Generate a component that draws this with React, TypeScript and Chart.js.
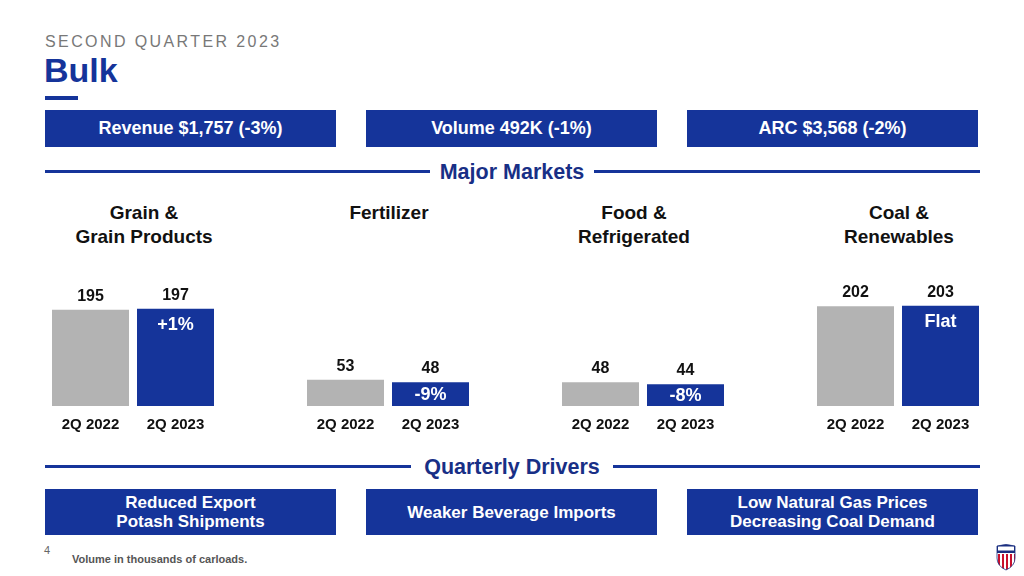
import React, { useEffect, useRef } from "react";
import { Chart, registerables } from "chart.js";

Chart.register(...registerables);

// ---- data ----
const headerStats = ["Revenue $1,757 (-3%)", "Volume 492K (-1%)", "ARC $3,568 (-2%)"];
const marketTitles = [["Grain &", "Grain Products"], ["Fertilizer"], ["Food &", "Refrigerated"], ["Coal &", "Renewables"]];
const periods = ["2Q 2022", "2Q 2023"];
const volume2022 = [195, 53, 48, 202];
const volume2023 = [197, 48, 44, 203];
const changeLabels = ["+1%", "-9%", "-8%", "Flat"];
const drivers = [["Reduced Export", "Potash Shipments"], ["Weaker Beverage Imports"], ["Low Natural Gas Prices", "Decreasing Coal Demand"]];
const footnote = "Volume in thousands of carloads.";

// ---- styles ----
const FONT = '"Liberation Sans", Arial, sans-serif';
const BLUE = "#15349a";
const NAVY = "#182f86";
const GRAY = "#b3b3b3";
const Y_MAX = 245;

const groupLefts = [48, 303, 558, 813];
const titleCenters = [144, 389, 634, 899];
const boxLefts = [45, 366, 687];

function MarketChart({ idx }: { idx: number }) {
  const ref = useRef<HTMLCanvasElement>(null);
  useEffect(() => {
    const change = changeLabels[idx];
    const labelPlugin = {
      id: "barLabels",
      afterDatasetsDraw(chart: any) {
        const ctx = chart.ctx;
        const meta = chart.getDatasetMeta(0);
        meta.data.forEach((bar: any, i: number) => {
          const v = chart.data.datasets[0].data[i];
          ctx.save();
          ctx.textAlign = "center";
          ctx.textBaseline = "middle";
          ctx.font = `bold 16px ${FONT}`;
          ctx.fillStyle = "#111111";
          ctx.fillText(String(v), bar.x, bar.y - 13.5);
          if (i === 1) {
            ctx.font = `bold 18px ${FONT}`;
            ctx.fillStyle = "#ffffff";
            const y = Math.min(bar.y + 16, (bar.y + bar.base) / 2 + 1);
            ctx.fillText(change, bar.x, y);
          }
          ctx.restore();
        });
      },
    };
    const chart = new Chart(ref.current as HTMLCanvasElement, {
      type: "bar",
      data: {
        labels: periods,
        datasets: [
          {
            data: [volume2022[idx], volume2023[idx]],
            backgroundColor: [GRAY, BLUE],
            borderWidth: 0,
            categoryPercentage: 1,
            barPercentage: 77 / 85,
          },
        ],
      },
      options: {
        responsive: false,
        animation: false,
        layout: { padding: { top: 5, bottom: 8, left: 0, right: 0 } },
        plugins: { legend: { display: false }, tooltip: { enabled: false } },
        scales: {
          y: { display: false, min: 0, max: Y_MAX },
          x: {
            grid: { display: false, drawTicks: false },
            border: { display: false },
            ticks: { padding: 10, color: "#111111", font: { family: FONT, size: 15, weight: "bold" } },
          },
        },
      },
      plugins: [labelPlugin],
    } as any);
    return () => chart.destroy();
  }, [idx]);
  return (
    <canvas
      ref={ref}
      width={170}
      height={172}
      style={{ position: "absolute", left: groupLefts[idx], top: 280, width: 170, height: 172 }}
    />
  );
}

function Divider({ top, text, leftEnd, rightStart }: { top: number; text: string; leftEnd: number; rightStart: number }) {
  return (
    <>
      <div style={{ position: "absolute", left: 45, top: top - 1.5, width: leftEnd - 45, height: 3, background: BLUE }} />
      <div style={{ position: "absolute", left: rightStart, top: top - 1.5, width: 980 - rightStart, height: 3, background: BLUE }} />
      <div
        style={{
          position: "absolute",
          left: 312,
          width: 400,
          top: top - 12,
          height: 26,
          lineHeight: "26px",
          textAlign: "center",
          fontWeight: "bold",
          fontSize: 21.5,
          color: NAVY,
        }}
      >
        {text}
      </div>
    </>
  );
}

function Logo() {
  return (
    <svg style={{ position: "absolute", left: 995, top: 543 }} width={22} height={28} viewBox="0 0 22 28">
      <defs>
        <clipPath id="shield">
          <path d="M2 3 Q11 0 20 3 L20 15 Q20 23 11 27 Q2 23 2 15 Z" />
        </clipPath>
      </defs>
      <g clipPath="url(#shield)">
        <rect x="0" y="0" width="22" height="28" fill="#fff" />
        <rect x="0" y="0" width="22" height="10" fill="#1a2f80" />
        <rect x="3" y="3.5" width="16" height="4" fill="#fff" />
        {[3, 7, 11, 15, 19].map((x) => (
          <rect key={x} x={x} y="11" width="2" height="17" fill="#c8102e" />
        ))}
      </g>
      <path d="M2 3 Q11 0 20 3 L20 15 Q20 23 11 27 Q2 23 2 15 Z" fill="none" stroke="#1a2f80" strokeWidth="0.8" />
    </svg>
  );
}

export default function App() {
  return (
    <div
      style={{
        position: "fixed",
        left: 0,
        top: 0,
        width: 1024,
        height: 576,
        background: "#ffffff",
        overflow: "hidden",
        fontFamily: FONT,
      }}
    >
      <div
        style={{
          position: "absolute",
          left: 45,
          top: 32,
          fontSize: 16,
          letterSpacing: 2.4,
          color: "#787878",
          lineHeight: "20px",
          whiteSpace: "nowrap",
        }}
      >
        SECOND QUARTER 2023
      </div>
      <div
        style={{
          position: "absolute",
          left: 44,
          top: 50,
          fontSize: 34,
          fontWeight: "bold",
          color: BLUE,
          lineHeight: "40px",
        }}
      >
        Bulk
      </div>
      <div style={{ position: "absolute", left: 45, top: 96, width: 33, height: 4, background: BLUE }} />

      {headerStats.map((t, i) => (
        <div
          key={t}
          style={{
            position: "absolute",
            left: boxLefts[i],
            top: 110,
            width: 291,
            height: 37,
            background: BLUE,
            color: "#fff",
            fontWeight: "bold",
            fontSize: 18,
            lineHeight: "37px",
            textAlign: "center",
          }}
        >
          {t}
        </div>
      ))}

      <Divider top={171} text="Major Markets" leftEnd={430} rightStart={594} />

      {marketTitles.map((lines, i) => (
        <div
          key={i}
          style={{
            position: "absolute",
            left: titleCenters[i] - 110,
            width: 220,
            top: 201,
            textAlign: "center",
            fontWeight: "bold",
            fontSize: 19,
            lineHeight: "24px",
            color: "#111111",
          }}
        >
          {lines.map((l) => (
            <div key={l}>{l}</div>
          ))}
        </div>
      ))}

      {volume2022.map((_, i) => (
        <MarketChart key={i} idx={i} />
      ))}

      <Divider top={466} text="Quarterly Drivers" leftEnd={411} rightStart={613} />

      {drivers.map((lines, i) => (
        <div
          key={i}
          style={{
            position: "absolute",
            left: boxLefts[i],
            top: 489,
            width: 291,
            height: 46,
            background: BLUE,
            color: "#fff",
            fontWeight: "bold",
            fontSize: 17,
            lineHeight: "19px",
            textAlign: "center",
            display: "flex",
            flexDirection: "column",
            justifyContent: "center",
          }}
        >
          {lines.map((l) => (
            <div key={l}>{l}</div>
          ))}
        </div>
      ))}

      <div style={{ position: "absolute", left: 44, top: 543, fontSize: 11, color: "#666", lineHeight: "14px" }}>4</div>
      <div
        style={{
          position: "absolute",
          left: 72,
          top: 552,
          fontSize: 11,
          fontWeight: "bold",
          color: "#555",
          lineHeight: "14px",
          whiteSpace: "nowrap",
        }}
      >
        {footnote}
      </div>
      <Logo />
    </div>
  );
}
